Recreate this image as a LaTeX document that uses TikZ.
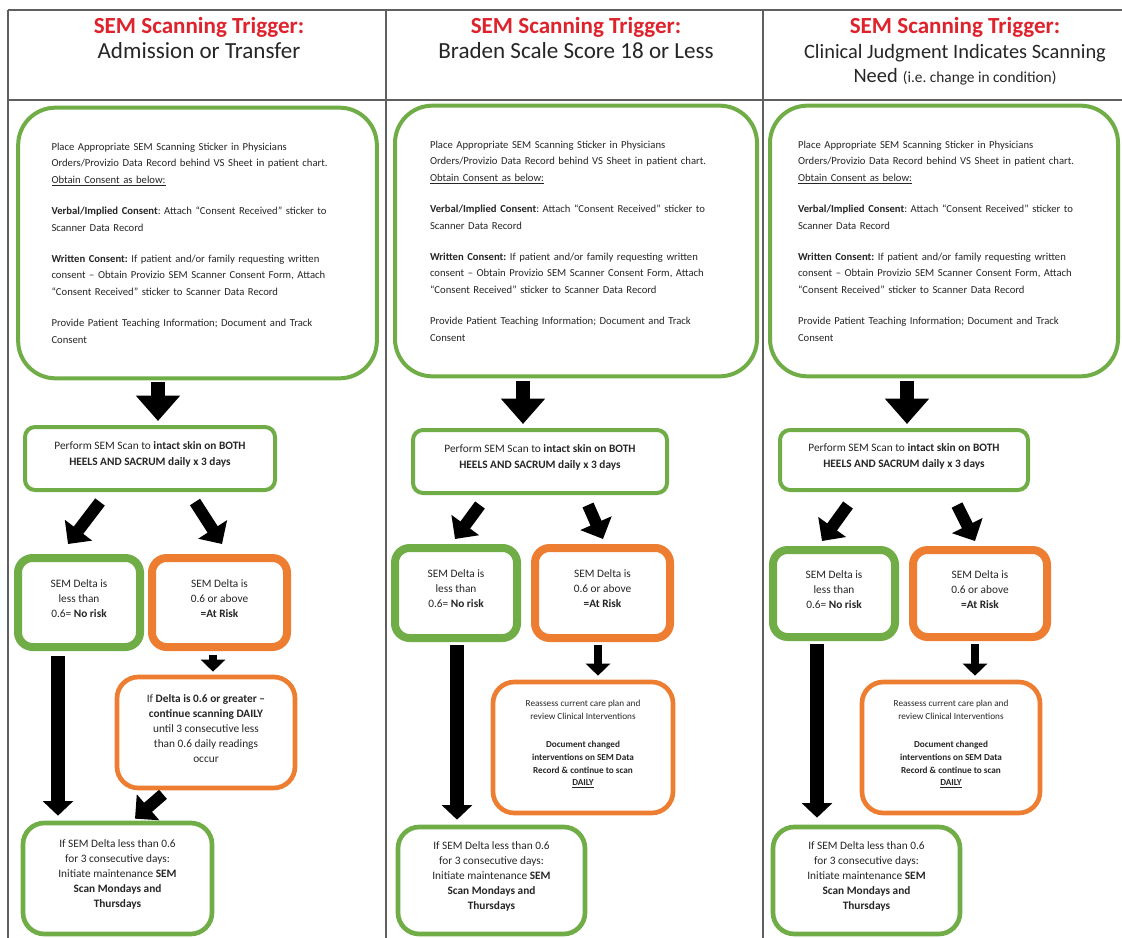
\documentclass[tikz,border=0pt]{standalone}
\usepackage{fontspec}
\setmainfont{Carlito}
\usepackage{tikz}
\usetikzlibrary{arrows.meta,fit}
\frenchspacing
\definecolor{semgreen}{RGB}{112,173,71}
\definecolor{semorange}{RGB}{237,125,49}
\definecolor{semred}{RGB}{222,35,45}
\definecolor{rulegray}{RGB}{95,95,95}
\newcommand{\consenttext}{Place Appropriate SEM Scanning Sticker in Physicians\\
  Orders/Provizio Data Record behind VS Sheet in patient chart.\\
  \underline{Obtain Consent as below:}\\[11pt]
  \textbf{Verbal/Implied Consent}: Attach “Consent Received” sticker to\\
  Scanner Data Record\\[11pt]
  \textbf{Written Consent:} If patient and/or family requesting written\\
  consent – Obtain Provizio SEM Scanner Consent Form, Attach\\
  “Consent Received” sticker to Scanner Data Record\\[11pt]
  Provide Patient Teaching Information; Document and Track\\
  Consent}
\newcommand{\scantext}{Perform SEM Scan to \textbf{intact skin on BOTH}\\\textbf{HEELS AND SACRUM daily x 3 days}}
\newcommand{\norisktext}{SEM Delta is\\less than\\0.6= \textbf{No risk}}
\newcommand{\risktext}{SEM Delta is\\0.6 or above\\\textbf{=At Risk}}
\newcommand{\reassesstext}{Reassess current care plan and\\review Clinical Interventions\\[12pt]
  \textbf{Document changed}\\\textbf{interventions on SEM Data}\\\textbf{Record \& continue to scan}\\\textbf{\underline{DAILY}}}
\newcommand{\maintaintext}{If SEM Delta less than 0.6\\for 3 consecutive days:\\Initiate maintenance \textbf{SEM}\\\textbf{Scan Mondays and}\\\textbf{Thursdays}}

\begin{document}
\begin{tikzpicture}[x=0.75pt, y=-0.75pt,
  basebox/.style={draw=semgreen, line width=3pt, rounded corners=7.5pt, inner sep=0pt, text=black!85},
  gbox/.style={basebox, align=center, font=\fontsize{8.5}{12}\selectfont},
  consentbox/.style={basebox, rounded corners=28pt, text width=219pt, align=left, minimum height=203pt,
    font=\fontsize{8}{12.4}\selectfont},
  nobox/.style={gbox, line width=6pt, rounded corners=11pt, font=\fontsize{8.5}{11.25}\selectfont},
  riskbox/.style={nobox, draw=semorange},
  actbox/.style={gbox, draw=semorange, line width=3.5pt, rounded corners=16pt, font=\fontsize{8.5}{11.25}\selectfont},
  smallact/.style={actbox, font=\fontsize{6.9}{9.5}\selectfont},
  endbox/.style={gbox, line width=3.5pt, rounded corners=16pt, font=\fontsize{8.5}{11.25}\selectfont},
  head/.style={anchor=north, inner sep=0pt, align=center, text=black!85, font=\fontsize{17.3}{18.5}\selectfont},
  rule/.style={draw=rulegray, line width=1.5pt},
  bigarrow/.style={line width=11pt, -{Triangle[width=32pt,length=19pt]}},
  diagarrow/.style={line width=9pt, -{Triangle[width=25pt,length=13pt]}},
  smallarrow/.style={line width=6pt, -{Triangle[width=18pt,length=9pt]}},
  longarrow/.style={line width=10.5pt, -{Triangle[width=22.5pt,length=11pt]}},
]
  \fill[white] (0,0) rectangle (1122,938);
  \useasboundingbox (0,0) rectangle (1122,938);

  % table
  \draw[rule] (8,10) -- (1122,10);
  \draw[rule] (8,100) -- (1122,100);
  \draw[rule] (8,10) -- (8,938);
  \draw[rule] (386,10) -- (386,938);
  \draw[rule] (763,10) -- (763,938);

  % headers
  \node[head] (trig1) at (199,17) {\textcolor{semred}{\textbf{SEM Scanning Trigger:}}\\Admission or Transfer};
  \node[head] (trig2) at (576,17) {\textcolor{semred}{\textbf{SEM Scanning Trigger:}}\\Braden Scale Score 18 or Less};
  \node[head] (trig3) at (955,17) {\textcolor{semred}{\textbf{SEM Scanning Trigger:}}\\{\fontsize{15.3}{18.5}\selectfont Clinical Judgment Indicates Scanning}\\
    {\fontsize{15.3}{18.5}\selectfont Need} {\fontsize{11.5}{18.5}\selectfont (i.e. change in condition)}};

  % column 1
  \node[consentbox, minimum width=269pt] (big1) at (197.5,243) {\consenttext};
  \node[gbox, fit={(25,427) (275,490)}] (scan1) {\scantext};
  \node[nobox, fit={(18,558) (140,647)}] (low1) {\norisktext};
  \node[riskbox, fit={(152,558) (287,647)}] (high1) {\risktext};
  \node[actbox, fit={(117,677) (295,788)}] (act1) {If \textbf{Delta is 0.6 or greater –}\\\textbf{continue scanning DAILY}\\until 3 consecutive less\\than 0.6 daily readings\\occur};
  \node[endbox, fit={(23,823) (212,934)}] (end1) {\maintaintext};
  \draw[bigarrow] ([shift={(-39.5,2)}]big1.south) -- ([shift={(8,-4)}]scan1.north);
  \draw[diagarrow] ([shift={(-50,10)}]scan1.south) -- ([shift={(-11,-10)}]low1.north);
  \draw[diagarrow] ([shift={(45,10)}]scan1.south) -- ([shift={(2.5,-10)}]high1.north);
  \draw[smallarrow] ([shift={(-6.5,4)}]high1.south) -- ([shift={(7,-3)}]act1.north);
  \draw[longarrow] ([shift={(-21,5)}]low1.south) -- ([shift={(-59.5,-5)}]end1.north);
  \draw[diagarrow] ([shift={(-43,4)}]act1.south) -- ([shift={(17.5,-2)}]end1.north);

  % column 2
  \node[consentbox, minimum width=271.5pt] (big2) at (576,241) {\consenttext};
  \node[gbox, fit={(413,430) (667,493)}] (scan2) {\scantext};
  \node[nobox, fit={(395,548) (517,638)}] (low2) {\norisktext};
  \node[riskbox, fit={(535,548) (670,638)}] (high2) {\risktext};
  \node[smallact, fit={(493,682) (673,813)}] (act2) {\reassesstext};
  \node[endbox, fit={(398,827) (585,934)}] (end2) {\maintaintext};
  \draw[bigarrow] ([shift={(-53,3)}]big2.south) -- ([shift={(-17,-4)}]scan2.north);
  \draw[diagarrow] ([shift={(-60,10)}]scan2.south) -- ([shift={(-1,-5)}]low2.north);
  \draw[diagarrow] ([shift={(48,10)}]scan2.south) -- ([shift={(0.5,-5)}]high2.north);
  \draw[smallarrow] ([shift={(-4.5,3)}]high2.south) -- ([shift={(15,-4)}]act2.north);
  \draw[longarrow] ([shift={(1,3)}]low2.south) -- ([shift={(-34.5,-5)}]end2.north);

  % column 3
  \node[consentbox, minimum width=261pt] (big3) at (944,241) {\consenttext};
  \node[gbox, fit={(780,430) (1028,490)}] (scan3) {\scantext};
  \node[nobox, fit={(773,550) (895,637)}] (low3) {\norisktext};
  \node[riskbox, fit={(913,550) (1047,637)}] (high3) {\risktext};
  \node[smallact, fit={(862,682) (1040,813)}] (act3) {\reassesstext};
  \node[endbox, fit={(773,827) (960,934)}] (end3) {\maintaintext};
  \draw[bigarrow] ([shift={(-37,3)}]big3.south) -- ([shift={(3,-4)}]scan3.north);
  \draw[diagarrow] ([shift={(-56,13)}]scan3.south) -- ([shift={(-12,-5)}]low3.north);
  \draw[diagarrow] ([shift={(53,13)}]scan3.south) -- ([shift={(-5,-5)}]high3.north);
  \draw[smallarrow] ([shift={(-5,3)}]high3.south) -- ([shift={(24,-4)}]act3.north);
  \draw[longarrow] ([shift={(-17,3)}]low3.south) -- ([shift={(-49.5,-7)}]end3.north);
\end{tikzpicture}
\end{document}
